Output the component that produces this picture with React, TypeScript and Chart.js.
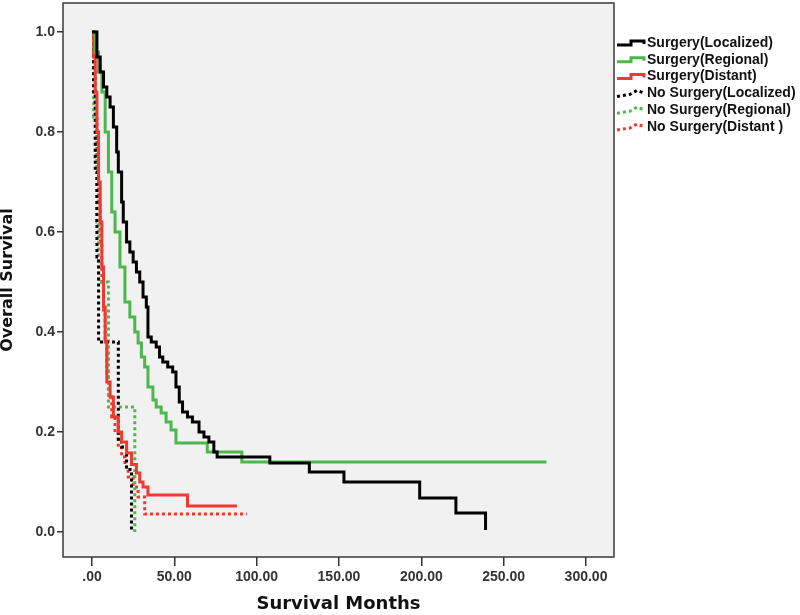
import React, { useEffect, useRef } from 'react';
import { Chart, registerables } from 'chart.js';
Chart.register(...registerables);

// Series labels
const seriesLabels = [
  'Surgery(Localized)',
  'Surgery(Regional)',
  'Surgery(Distant)',
  'No Surgery(Localized)',
  'No Surgery(Regional)',
  'No Surgery(Distant )',
];

// Surgery (Localized)
const surgLocT = [0, 3, 5, 7, 9, 11, 13, 15, 16, 18, 19, 21, 23, 25, 27, 29, 31, 33, 34, 36, 39, 41, 43, 46, 49, 51, 53, 55, 58, 61, 65, 68, 71, 74, 76, 108, 132, 153, 199, 221, 239];
const surgLocS = [1.0, 0.95, 0.92, 0.89, 0.87, 0.85, 0.81, 0.76, 0.72, 0.66, 0.62, 0.58, 0.56, 0.54, 0.52, 0.50, 0.47, 0.45, 0.39, 0.38, 0.37, 0.35, 0.34, 0.33, 0.32, 0.29, 0.26, 0.24, 0.23, 0.22, 0.20, 0.19, 0.18, 0.16, 0.15, 0.138, 0.12, 0.10, 0.068, 0.038, 0.004];

// Surgery (Regional)
const surgRegT = [0, 2, 4, 6, 8, 10, 12, 14, 17, 20, 23, 26, 28, 30, 32, 34, 37, 39, 42, 45, 48, 51, 70, 91, 276];
const surgRegS = [1.0, 0.96, 0.92, 0.88, 0.80, 0.72, 0.64, 0.60, 0.53, 0.46, 0.43, 0.40, 0.378, 0.35, 0.33, 0.29, 0.264, 0.25, 0.238, 0.22, 0.204, 0.178, 0.16, 0.14, 0.14];

// Surgery (Distant)
const surgDisT = [0, 1, 2, 3, 4, 5, 6, 7, 8, 9, 11, 13, 16, 18, 21, 24, 27, 29, 31, 34, 58, 88];
const surgDisS = [1.0, 0.95, 0.88, 0.80, 0.70, 0.62, 0.53, 0.45, 0.38, 0.30, 0.27, 0.23, 0.20, 0.18, 0.158, 0.135, 0.118, 0.10, 0.09, 0.074, 0.052, 0.052];

// No Surgery (Localized)
const noLocT = [0, 1, 2, 3, 4, 16, 18, 21, 24];
const noLocS = [1.0, 0.88, 0.72, 0.55, 0.38, 0.18, 0.17, 0.125, 0.0];

// No Surgery (Regional)
const noRegT = [0, 1, 2, 3, 4, 10, 26];
const noRegS = [1.0, 0.83, 0.75, 0.62, 0.50, 0.25, 0.0];

// No Surgery (Distant)
const noDisT = [0, 1, 2, 3, 4, 5, 6, 7, 8, 9, 10, 12, 14, 16, 18, 20, 22, 25, 28, 32, 94];
const noDisS = [1.0, 0.92, 0.83, 0.75, 0.66, 0.58, 0.50, 0.44, 0.38, 0.32, 0.27, 0.23, 0.20, 0.17, 0.15, 0.13, 0.11, 0.09, 0.07, 0.036, 0.036];

const xTicks = [0, 50, 100, 150, 200, 250, 300];
const yTicks = [0, 0.2, 0.4, 0.6, 0.8, 1.0];

const BLACK = '#000000';
const GREEN = '#4cb84c';
const RED = '#ef3a32';
const FONT = '"Liberation Sans", Arial, sans-serif';
const TITLE_FONT = '"DejaVu Sans", "Liberation Sans", sans-serif';

export default function App() {
  const ref = useRef<HTMLCanvasElement>(null);

  useEffect(() => {
    const canvas = ref.current;
    if (!canvas) return;
    const pts = (t: number[], s: number[]) => t.map((v, i) => ({ x: v, y: s[i] }));
    const mk = (i: number, t: number[], s: number[], color: string, dashed: boolean) => ({
      label: seriesLabels[i],
      data: pts(t, s),
      showLine: true,
      stepped: true,
      borderColor: color,
      backgroundColor: color,
      borderWidth: 3,
      borderDash: dashed ? [3, 3] : [],
      pointRadius: 0,
      fill: false,
    });

    const bgPlugin = {
      id: 'bgPlugin',
      beforeDraw(chart: any) {
        const { ctx, chartArea: a } = chart;
        ctx.save();
        ctx.fillStyle = '#ffffff';
        ctx.fillRect(0, 0, chart.width, chart.height);
        ctx.fillStyle = '#f1f1f1';
        ctx.fillRect(a.left, a.top, a.right - a.left, a.bottom - a.top);
        ctx.restore();
      },
      afterDraw(chart: any) {
        const { ctx, chartArea: a } = chart;
        ctx.save();
        ctx.strokeStyle = '#3a3a3a';
        ctx.lineWidth = 1.5;
        ctx.strokeRect(a.left, a.top, a.right - a.left, a.bottom - a.top);
        // legend
        chart.data.datasets.forEach((ds: any, i: number) => {
          const y = 43 + i * 16.8;
          ctx.strokeStyle = ds.borderColor;
          ctx.lineWidth = 3;
          ctx.setLineDash(ds.borderDash || []);
          ctx.beginPath();
          if ((ds.borderDash || []).length === 0) {
            ctx.moveTo(617, y + 2);
            ctx.lineTo(631, y + 2);
            ctx.lineTo(631, y - 2);
            ctx.lineTo(644, y - 2);
            ctx.lineTo(644, y + 1);
          } else {
            ctx.moveTo(617, y + 3);
            ctx.lineTo(630, y + 1);
            ctx.lineTo(637, y - 3);
            ctx.lineTo(645, y);
          }
          ctx.stroke();
          ctx.setLineDash([]);
          ctx.fillStyle = '#111111';
          ctx.font = 'bold 14px ' + FONT;
          ctx.textBaseline = 'middle';
          ctx.textAlign = 'left';
          ctx.fillText(ds.label, 647, y);
        });
        ctx.restore();
      },
    };

    const chart = new Chart(canvas, {
      type: 'scatter',
      data: {
        datasets: [
          mk(0, surgLocT, surgLocS, BLACK, false),
          mk(1, surgRegT, surgRegS, GREEN, false),
          mk(2, surgDisT, surgDisS, RED, false),
          mk(3, noLocT, noLocS, BLACK, true),
          mk(4, noRegT, noRegS, GREEN, true),
          mk(5, noDisT, noDisS, RED, true),
        ] as any,
      },
      options: {
        animation: false,
        responsive: false,
        layout: { padding: { top: 3, right: 186, left: 0, bottom: 0 } },
        plugins: { legend: { display: false }, tooltip: { enabled: false } },
        scales: {
          x: {
            type: 'linear',
            min: -17.6,
            max: 317,
            afterFit: (s: any) => { s.height = 58; s.paddingLeft = 0; s.paddingRight = 0; },
            afterBuildTicks: (s: any) => { s.ticks = xTicks.map((v) => ({ value: v })); },
            ticks: {
              autoSkip: false,
              maxRotation: 0,
              padding: 3,
              color: '#333333',
              font: { family: FONT, size: 14, weight: 'bold' },
              callback: (v: any) => (v === 0 ? '.00' : Number(v).toFixed(2)),
            },
            grid: { display: true, drawOnChartArea: false, drawTicks: true, tickLength: 9, color: '#333333', lineWidth: 1.5 },
            border: { display: false },
            title: {
              display: true,
              text: 'Survival Months',
              color: '#111111',
              font: { family: TITLE_FONT, size: 18, weight: 'bold', lineHeight: 1 },
              padding: { top: 0, bottom: 2 },
            },
          },
          y: {
            type: 'linear',
            min: -0.05,
            max: 1.058,
            afterFit: (s: any) => { s.width = 63; s.paddingTop = 0; s.paddingBottom = 0; },
            afterBuildTicks: (s: any) => { s.ticks = yTicks.map((v) => ({ value: v })); },
            ticks: {
              autoSkip: false,
              padding: 2,
              color: '#333333',
              font: { family: FONT, size: 14, weight: 'bold' },
              callback: (v: any) => Number(v).toFixed(1),
            },
            grid: { display: true, drawOnChartArea: false, drawTicks: true, tickLength: 6, color: '#333333', lineWidth: 1.5 },
            border: { display: false },
            title: {
              display: true,
              text: 'Overall Survival',
              color: '#111111',
              font: { family: TITLE_FONT, size: 16, weight: 'bold', lineHeight: 1 },
              padding: { top: 0, bottom: 0 },
            },
          },
        },
      } as any,
      plugins: [bgPlugin],
    });
    return () => chart.destroy();
  }, []);

  return (
    <div style={{ position: 'absolute', left: 0, top: 0, width: 800, height: 615, background: '#ffffff' }}>
      <canvas ref={ref} width={800} height={615} style={{ display: 'block', width: 800, height: 615 }} />
    </div>
  );
}
